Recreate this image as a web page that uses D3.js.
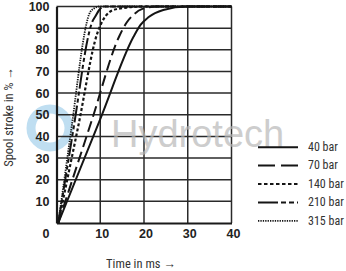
<!DOCTYPE html>
<html><head><meta charset="utf-8">
<script src="https://cdn.jsdelivr.net/npm/d3@7"></script>
<style>
html,body{margin:0;padding:0;background:#fff;}
svg{display:block;font-family:"Liberation Sans",Arial,sans-serif;}
</style></head>
<body>
<svg id="c" width="346" height="271"></svg>
<script>
// ---- data ----
const seriesNames = ["40 bar", "70 bar", "140 bar", "210 bar", "315 bar"];
const t40  = [0.4, 10, 17.6, 19.2, 21, 24.4, 29.8, 40];
const s40  = [0, 48, 86, 91.5, 95, 98.4, 100, 100];
const t70  = [0.4, 8, 14.4, 16, 17.5, 19.5, 23, 40];
const s70  = [0, 47, 86.5, 92.5, 96, 98.8, 100, 100];
const t140 = [0.4, 5, 9.3, 10.3, 11.3, 12.9, 16, 20, 40];
const s140 = [0, 45, 87.5, 92.5, 95.8, 98.3, 99.5, 100, 100];
const t210 = [0.4, 4, 7.4, 8, 8.9, 9.8, 10.9, 40];
const s210 = [0, 45, 87.5, 92, 95.5, 98.5, 100, 100];
const t315 = [0.4, 3.5, 6.4, 6.9, 7.5, 8.5, 9.8, 40];
const s315 = [0, 45, 87.5, 92.5, 96.6, 99, 100, 100];
const xTicks = [0, 10, 20, 30, 40];
const yTicks = [10, 20, 30, 40, 50, 60, 70, 80, 90, 100];
const xTitle = "Time in ms \u2192";
const yTitle = "Spool stroke in % \u2192";

const times = [t40, t70, t140, t210, t315];
const vals = [s40, s70, s140, s210, s315];
const dashes = ["none", "11,5", "3,2.2", "17,3,4,3,4,3", "1.3,1.1"];
const widths = [2, 2, 2.2, 2, 1.8];
const legendDash = ["none", "17,6", "3.5,2.5", "20,3,5,3,5,3", "1.3,1.1"];
const narrow = "'Liberation Sans Narrow','Arial Narrow','Roboto Condensed',sans-serif";

const svg = d3.select("#c");
const x = d3.scaleLinear().domain([0, 40]).range([56.5, 231.5]);
const y = d3.scaleLinear().domain([0, 100]).range([223, 6.5]);

// watermark logo
svg.append("circle").attr("cx", 50).attr("cy", 128).attr("r", 19)
  .attr("fill", "none").attr("stroke", "#a9d3ec").attr("stroke-width", 9).attr("opacity", 0.75);

// grid
const grid = svg.append("g").attr("stroke", "#2a2a2a").attr("stroke-width", 1.5);
xTicks.slice(1).forEach(v => grid.append("line").attr("x1", x(v)).attr("x2", x(v)).attr("y1", y(0)).attr("y2", y(100)));
yTicks.forEach(v => grid.append("line").attr("x1", x(0)).attr("x2", x(40)).attr("y1", y(v)).attr("y2", y(v)));

// axes via d3
const yAxis = d3.axisLeft(y).tickValues(yTicks).tickSize(0).tickPadding(7);
const gy = svg.append("g").attr("transform", `translate(${x(0)},0)`).call(yAxis);
gy.select(".domain").attr("stroke", "#1a1a1a").attr("stroke-width", 2.2);
gy.selectAll("text").attr("font-size", 12.5).attr("font-weight", "bold").attr("fill", "#222")
  .attr("font-family", "'Liberation Sans',Arial,sans-serif");

const xAxis = d3.axisBottom(x).tickValues(xTicks).tickSize(0).tickPadding(6);
const gx = svg.append("g").attr("transform", `translate(0,${y(0)})`).call(xAxis);
gx.select(".domain").attr("stroke", "#1a1a1a").attr("stroke-width", 2.2);
gx.selectAll("text").attr("font-size", 12.5).attr("font-weight", "bold").attr("fill", "#222")
  .attr("font-family", "'Liberation Sans',Arial,sans-serif")
  .attr("dx", d => d === 0 ? -11 : 1.5);

// curves
const line = d3.line().x(d => x(d[0])).y(d => y(d[1])).curve(d3.curveMonotoneX);
seriesNames.forEach((n, i) => {
  const pts = times[i].map((t, j) => [t, vals[i][j]]);
  svg.append("path").attr("d", line(pts)).attr("fill", "none")
    .attr("stroke", "#151515").attr("stroke-width", widths[i])
    .attr("stroke-dasharray", dashes[i]);
});

// watermark text
svg.append("text").attr("x", 111).attr("y", 147).text("Hydrotech")
  .attr("font-size", 38).attr("fill", "#b8b8b8").attr("opacity", 0.7)
  .attr("font-family", "'Liberation Sans',Arial,sans-serif");

// legend
const ly = d3.scaleBand().domain(seriesNames).range([138, 230]);
const lg = svg.append("g");
seriesNames.forEach((n, i) => {
  const yy = ly(n) + ly.bandwidth() / 2;
  lg.append("line").attr("x1", 258).attr("x2", 298).attr("y1", yy).attr("y2", yy)
    .attr("stroke", "#151515").attr("stroke-width", widths[i]).attr("stroke-dasharray", legendDash[i]);
  lg.append("text").attr("x", 308).attr("y", yy).attr("dy", "0.32em").text(n)
    .attr("font-size", 12).attr("fill", "#333").attr("font-family", narrow);
});

// titles
svg.append("text").attr("x", 141).attr("y", 264).attr("dy", "0.32em").attr("text-anchor", "middle")
  .text(xTitle).attr("font-size", 12.5).attr("fill", "#333").attr("font-family", narrow);
svg.append("text").attr("transform", "translate(9,117) rotate(-90)").attr("dy", "0.32em")
  .attr("text-anchor", "middle").text(yTitle).attr("font-size", 12.5).attr("fill", "#333")
  .attr("font-family", narrow);
</script>
</body></html>
